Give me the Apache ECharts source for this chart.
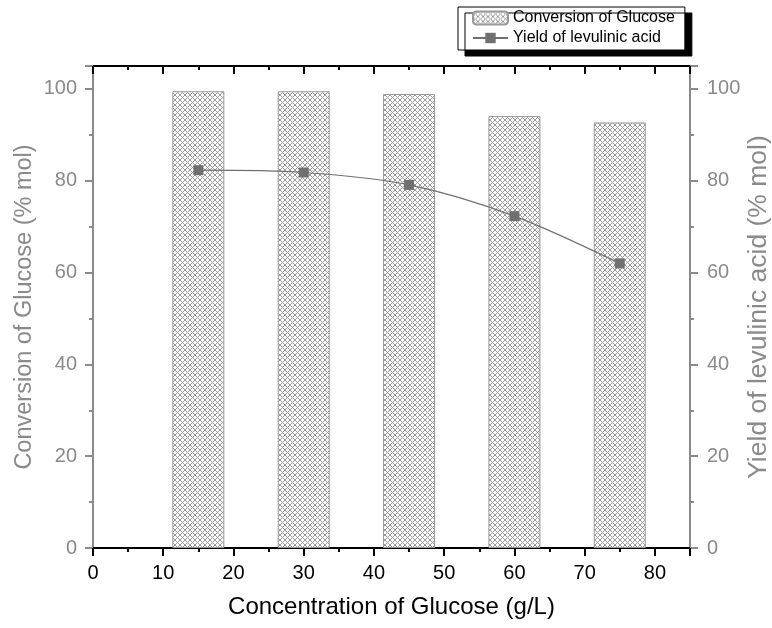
<!DOCTYPE html>
<html>
<head>
<meta charset="utf-8">
<script src="https://cdn.jsdelivr.net/npm/echarts@6/dist/echarts.min.js"></script>
<style>
html, body { margin: 0; padding: 0; background: #fff; }
#chart { width: 772px; height: 628px; }
</style>
</head>
<body>
<div id="chart"></div>
<script>
// glucose concentration (g/L)
const concentration = [15, 30, 45, 60, 75]
// conversion of glucose (% mol)
const conversion = [99.5, 99.5, 98.9, 94.1, 92.7]
// yield of levulinic acid (% mol)
const yieldLA = [82.3, 81.8, 79.1, 72.3, 62.0]

const FONT = 'Arial, "Liberation Sans", sans-serif'
const GRAY = '#8a8a8a'

// cross hatch tile for the bars, drawn pixel by pixel
function hatch() {
  const p = 5
  const c = document.createElement('canvas')
  c.width = p
  c.height = p
  const ctx = c.getContext('2d')
  ctx.fillStyle = '#fff'
  ctx.fillRect(0, 0, p, p)
  ctx.fillStyle = '#9a9a9a'
  for (let x = 0; x < p; x++) {
    for (let y = 0; y < p; y++) {
      if ((x - y + p) % p === 0 || (x + y) % p === p - 1) ctx.fillRect(x, y, 1, 1)
    }
  }
  return { image: c, repeat: 'repeat' }
}

const chart = echarts.init(document.getElementById('chart'))

const options = {
  animation: false,
  backgroundColor: '#fff',
  textStyle: { fontFamily: FONT },
  grid: { left: 93, right: 82, top: 66, bottom: 80, containLabel: false, outerBoundsMode: 'none' },
  legend: {
    left: 458,
    top: 7,
    orient: 'vertical',
    itemGap: 4,
    itemWidth: 35,
    itemHeight: 13,
    padding: [3, 10, 4, 14],
    backgroundColor: '#fff',
    borderColor: '#000',
    borderWidth: 1,
    borderRadius: 0,
    shadowColor: '#000',
    shadowBlur: 0,
    shadowOffsetX: 7,
    shadowOffsetY: 6,
    textStyle: { fontFamily: FONT, fontSize: 16, color: '#000' },
    data: ['Conversion of Glucose', 'Yield of levulinic acid']
  },
  xAxis: [{
    type: 'value',
    position: 'bottom',
    min: 0,
    max: 85,
    interval: 10,
    name: 'Concentration of Glucose (g/L)',
    nameLocation: 'middle',
    nameMoveOverlap: false,
    nameGap: 47,
    nameTextStyle: { fontSize: 24, color: '#000', fontFamily: FONT },
    axisLine: { onZero: false, lineStyle: { color: '#000', width: 2 } },
    axisTick: { inside: false, length: 8, lineStyle: { color: '#000', width: 2 } },
    minorTick: { show: true, splitNumber: 2, length: 4, lineStyle: { color: '#000', width: 2 } },
    axisLabel: { fontSize: 20, color: '#000', margin: 15, showMaxLabel: false },
    splitLine: { show: false }
  }, {
    type: 'value',
    position: 'top',
    min: 0,
    max: 85,
    interval: 10,
    axisLine: { onZero: false, lineStyle: { color: '#000', width: 2 } },
    axisTick: { inside: true, length: 8, lineStyle: { color: '#000', width: 2 } },
    minorTick: { show: true, splitNumber: 2, length: 4, lineStyle: { color: '#000', width: 2 } },
    axisLabel: { show: false },
    splitLine: { show: false }
  }],
  yAxis: [{
    type: 'value',
    position: 'left',
    min: 0,
    max: 105,
    interval: 20,
    name: 'Conversion of Glucose (% mol)',
    nameLocation: 'middle',
    nameMoveOverlap: false,
    nameGap: 56,
    nameTextStyle: { fontSize: 23.5, color: GRAY, fontFamily: FONT },
    axisLine: { show: true, onZero: false, lineStyle: { color: GRAY, width: 2 } },
    axisTick: { show: true, length: 8, lineStyle: { color: GRAY, width: 2 } },
    minorTick: { show: true, splitNumber: 2, length: 4, lineStyle: { color: GRAY, width: 2 } },
    axisLabel: { fontSize: 20, color: GRAY, margin: 16, showMaxLabel: false },
    splitLine: { show: false }
  }, {
    type: 'value',
    position: 'right',
    min: 0,
    max: 105,
    interval: 20,
    name: 'Yield of levulinic acid (% mol)',
    nameLocation: 'middle',
    nameMoveOverlap: false,
    nameGap: 55,
    nameTextStyle: { fontSize: 26.5, color: GRAY, fontFamily: FONT },
    axisLine: { show: true, onZero: false, lineStyle: { color: GRAY, width: 2 } },
    axisTick: { show: true, length: 8, lineStyle: { color: GRAY, width: 2 } },
    minorTick: { show: true, splitNumber: 2, length: 4, lineStyle: { color: GRAY, width: 2 } },
    axisLabel: { fontSize: 20, color: GRAY, margin: 17, showMaxLabel: false },
    splitLine: { show: false }
  }],
  series: [{
    name: 'Conversion of Glucose',
    type: 'bar',
    xAxisIndex: 0,
    yAxisIndex: 0,
    barWidth: 52,
    itemStyle: { color: hatch(), borderColor: '#999', borderWidth: 1 },
    data: concentration.map((c, i) => [c, conversion[i]])
  }, {
    name: 'Yield of levulinic acid',
    type: 'line',
    xAxisIndex: 0,
    yAxisIndex: 1,
    smooth: 0.3,
    symbol: 'rect',
    symbolSize: 10,
    itemStyle: { color: '#707070' },
    lineStyle: { color: '#707070', width: 1.2 },
    data: concentration.map((c, i) => [c, yieldLA[i]])
  }]
}

chart.setOption(options)
</script>
</body>
</html>
